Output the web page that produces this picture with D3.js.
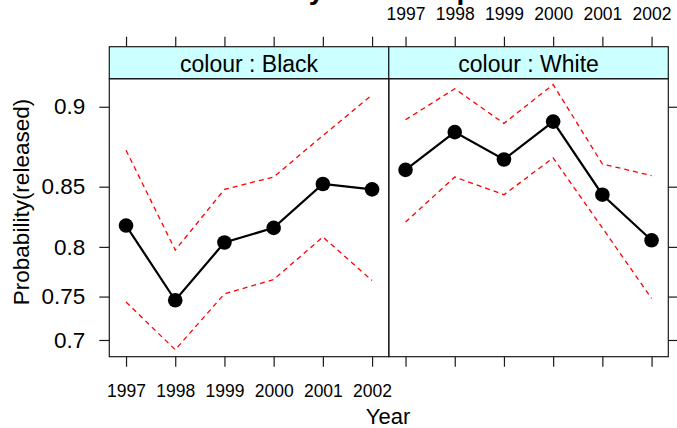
<!DOCTYPE html>
<html>
<head>
<meta charset="utf-8">
<script src="https://cdn.jsdelivr.net/npm/d3@7"></script>
<style>
  html, body { margin: 0; padding: 0; background: #fff; }
  svg { display: block; }
  text { font-family: "Liberation Sans", Arial, Helvetica, sans-serif; fill: #000; }
</style>
</head>
<body>
<svg id="chart" width="677" height="428"></svg>
<script>
// ---- data ----
const years = ["1997", "1998", "1999", "2000", "2001", "2002"];
const colours = ["Black", "White"];
const fitBlack   = [0.819, 0.746, 0.804, 0.817, 0.852, 0.848];
const lowerBlack = [0.744, 0.688, 0.753, 0.768, 0.809, 0.767];
const upperBlack = [0.875, 0.797, 0.848, 0.857, 0.884, 0.906];
const fitWhite   = [0.862, 0.886, 0.869, 0.892, 0.844, 0.806];
const lowerWhite = [0.822, 0.857, 0.844, 0.870, 0.817, 0.748];
const upperWhite = [0.893, 0.909, 0.891, 0.911, 0.866, 0.858];
const yTicks = [0.7, 0.75, 0.8, 0.85, 0.9];
const yLimits = [0.6793, 0.9137];
const titleText = "colour*year effect plot";
const xTitle = "Year";
const yTitle = "Probability(released)";
const stripName = "colour";

const panels = [
  { colour: colours[0], fit: fitBlack, lower: lowerBlack, upper: upperBlack },
  { colour: colours[1], fit: fitWhite, lower: lowerWhite, upper: upperWhite }
];

// ---- layout ----
const W = 677, H = 428;
const plotLeft = 109.3, plotRight = 668.3;
const stripTop = 46.7, stripBottom = 78.7, panelBottom = 356.7;
const panelW = (plotRight - plotLeft) / panels.length;
const axisCol = "#1a1a1a";

const logit = p => Math.log(p / (1 - p));
const expit = x => 1 / (1 + Math.exp(-x));

const svg = d3.select("#chart");
svg.append("rect").attr("width", W).attr("height", H).attr("fill", "#fff");

const y = d3.scaleLinear()
  .domain([logit(yLimits[0]), logit(yLimits[1])])
  .range([panelBottom, stripBottom]);

const fmt = d => String(+expit(d).toFixed(2));

panels.forEach((pn, i) => {
  const x0 = plotLeft + i * panelW, x1 = x0 + panelW;
  const x = d3.scalePoint().domain(years).range([x0, x1]).padding(0.34);
  const g = svg.append("g");

  // strip
  g.append("rect").attr("x", x0).attr("y", stripTop).attr("width", panelW)
    .attr("height", stripBottom - stripTop)
    .attr("fill", "#ccffff").attr("stroke", axisCol).attr("stroke-width", 1.2);
  g.append("text").attr("x", (x0 + x1) / 2).attr("y", 72.3)
    .attr("text-anchor", "middle").style("font-size", "23px")
    .text(stripName + " : " + pn.colour);

  // panel box
  g.append("rect").attr("x", x0).attr("y", stripBottom).attr("width", panelW)
    .attr("height", panelBottom - stripBottom)
    .attr("fill", "none").attr("stroke", axisCol).attr("stroke-width", 1.2);

  // confidence bands
  const line = d3.line().x((d, k) => x(years[k])).y(d => y(logit(d)));
  [pn.lower, pn.upper].forEach(arr => {
    g.append("path").attr("d", line(arr)).attr("fill", "none")
      .attr("stroke", "#ff0000").attr("stroke-width", 1.3)
      .attr("stroke-dasharray", "5,4");
  });
  // fit
  g.append("path").attr("d", line(pn.fit)).attr("fill", "none")
    .attr("stroke", "#000").attr("stroke-width", 2.2);
  g.selectAll("circle.pt").data(pn.fit).join("circle")
    .attr("cx", (d, k) => x(years[k])).attr("cy", d => y(logit(d)))
    .attr("r", 7.3).attr("fill", "#000");

  // bottom axis
  const bot = g.append("g").attr("transform", `translate(0,${panelBottom})`)
    .call(d3.axisBottom(x).tickSize(10).tickPadding(18)
      .tickFormat(i === 0 ? (d => d) : (() => "")));
  // top axis
  const top = g.append("g").attr("transform", `translate(0,${stripTop})`)
    .call(d3.axisTop(x).tickSize(10).tickPadding(17)
      .tickFormat(i === 1 ? (d => d) : (() => "")));
  [bot, top].forEach(a => {
    a.select(".domain").remove();
    a.selectAll("line").attr("stroke", axisCol).attr("stroke-width", 1.2);
    a.selectAll("text").style("font-size", "17.5px").style("font-family", null).attr("fill", "#000");
  });

  if (i === 0) {
    const left = g.append("g").attr("transform", `translate(${x0},0)`)
      .call(d3.axisLeft(y).tickValues(yTicks.map(logit)).tickSize(10)
        .tickPadding(14).tickFormat(fmt));
    left.select(".domain").remove();
    left.selectAll("line").attr("stroke", axisCol).attr("stroke-width", 1.2);
    left.selectAll("text").style("font-size", "22.5px").style("font-family", null).attr("fill", "#000");
  } else {
    const right = g.append("g").attr("transform", `translate(${x1},0)`)
      .call(d3.axisRight(y).tickValues(yTicks.map(logit)).tickSize(10)
        .tickFormat(() => ""));
    right.select(".domain").remove();
    right.selectAll("line").attr("stroke", axisCol).attr("stroke-width", 1.2);
  }
});

// titles
svg.append("text").attr("x", 360).attr("y", -1).attr("text-anchor", "middle")
  .style("font-size", "28px").style("font-weight", "bold").text(titleText);
svg.append("text").attr("x", 388).attr("y", 424).attr("text-anchor", "middle")
  .style("font-size", "22px").text(xTitle);
svg.append("text").attr("transform", "translate(29,202) rotate(-90)")
  .attr("text-anchor", "middle").style("font-size", "22.5px").text(yTitle);
</script>
</body>
</html>
